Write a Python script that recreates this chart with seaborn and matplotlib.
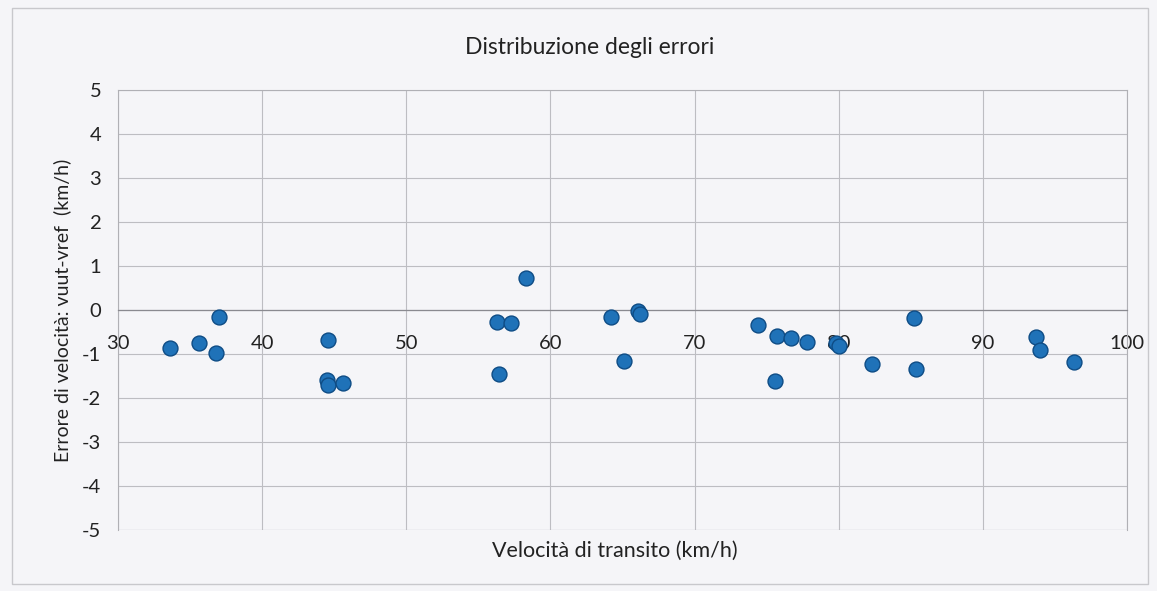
import numpy as np
import pandas as pd
import matplotlib
matplotlib.use("Agg")
import matplotlib.pyplot as plt
from matplotlib.patches import Rectangle
import seaborn as sns

# Data
velocita = [33.6, 35.6, 36.8, 37.0, 44.6, 44.5, 44.6, 45.6,
            58.3, 56.3, 57.3, 56.4, 64.2, 66.1, 66.2, 65.1,
            74.4, 75.7, 76.7, 77.8, 79.8, 80.0, 75.6, 82.3,
            85.2, 85.4, 93.7, 94.0, 96.3]
errore = [-0.87, -0.76, -0.97, -0.15, -0.69, -1.60, -1.70, -1.65,
          0.72, -0.28, -0.30, -1.45, -0.15, -0.02, -0.08, -1.15,
          -0.35, -0.60, -0.63, -0.72, -0.75, -0.82, -1.62, -1.22,
          -0.18, -1.33, -0.62, -0.90, -1.18]
x_ticks = [30, 40, 50, 60, 70, 80, 90, 100]
y_ticks = [5, 4, 3, 2, 1, 0, -1, -2, -3, -4, -5]

title = "Distribuzione degli errori"
x_label = "Velocità di transito (km/h)"
y_label = "Errore di velocità: vuut-vref  (km/h)"

df = pd.DataFrame({"Velocita": velocita, "Errore": errore})

sns.set_theme(style="white")
plt.rcParams["font.family"] = ["Lato", "DejaVu Sans"]

bg = "#f5f5f8"
fig = plt.figure(figsize=(11.57, 5.91), dpi=100, facecolor=bg)
ax = fig.add_axes([0.102, 0.103, 0.872, 0.745], facecolor=bg)

# outer chart border
fig.patches.append(Rectangle((0.010, 0.012), 0.982, 0.975, transform=fig.transFigure,
                             fill=False, edgecolor="#c8c8cc", linewidth=1.0))

sns.scatterplot(data=df, x="Velocita", y="Errore", ax=ax, s=115,
                color="#1f72b8", edgecolor="#0e4c85", linewidth=1.0, zorder=3)

for side in ["top", "right", "left"]:
    ax.spines[side].set_color("#b0b0b5")
    ax.spines[side].set_linewidth(0.8)
ax.spines["bottom"].set_position(("data", 0))
ax.spines["bottom"].set_color("#8a8a90")
ax.spines["bottom"].set_linewidth(0.9)

ax.set_xlim(30, 100)
ax.set_ylim(-5, 5)
ax.set_xticks(x_ticks)
ax.set_yticks(y_ticks)
ax.set_xticklabels([str(v) for v in x_ticks], fontsize=14.5, color="#222222")
ax.set_yticklabels([str(v) for v in y_ticks], fontsize=14.5, color="#222222")
ax.grid(True, color="#bdbdc2", linewidth=0.8, zorder=0)
ax.set_axisbelow(True)
ax.tick_params(axis="both", length=0)
ax.tick_params(axis="x", pad=18, labelsize=14.5)
ax.tick_params(axis="y", pad=12, labelsize=14.5)

# bottom border of plot area (since bottom spine moved to y=0)
ax.axhline(-5, color="#b0b0b5", linewidth=0.8, zorder=1)

ax.set_xlabel("")
ax.set_ylabel(y_label, fontsize=14, color="#222222", labelpad=8)
fig.text(0.531, 0.068, x_label, ha="center", va="center", fontsize=15.5, color="#222222")
fig.text(0.51, 0.92, title, ha="center", va="center", fontsize=16.5, color="#222222")

fig.savefig("out.png", dpi=100, facecolor=bg)
